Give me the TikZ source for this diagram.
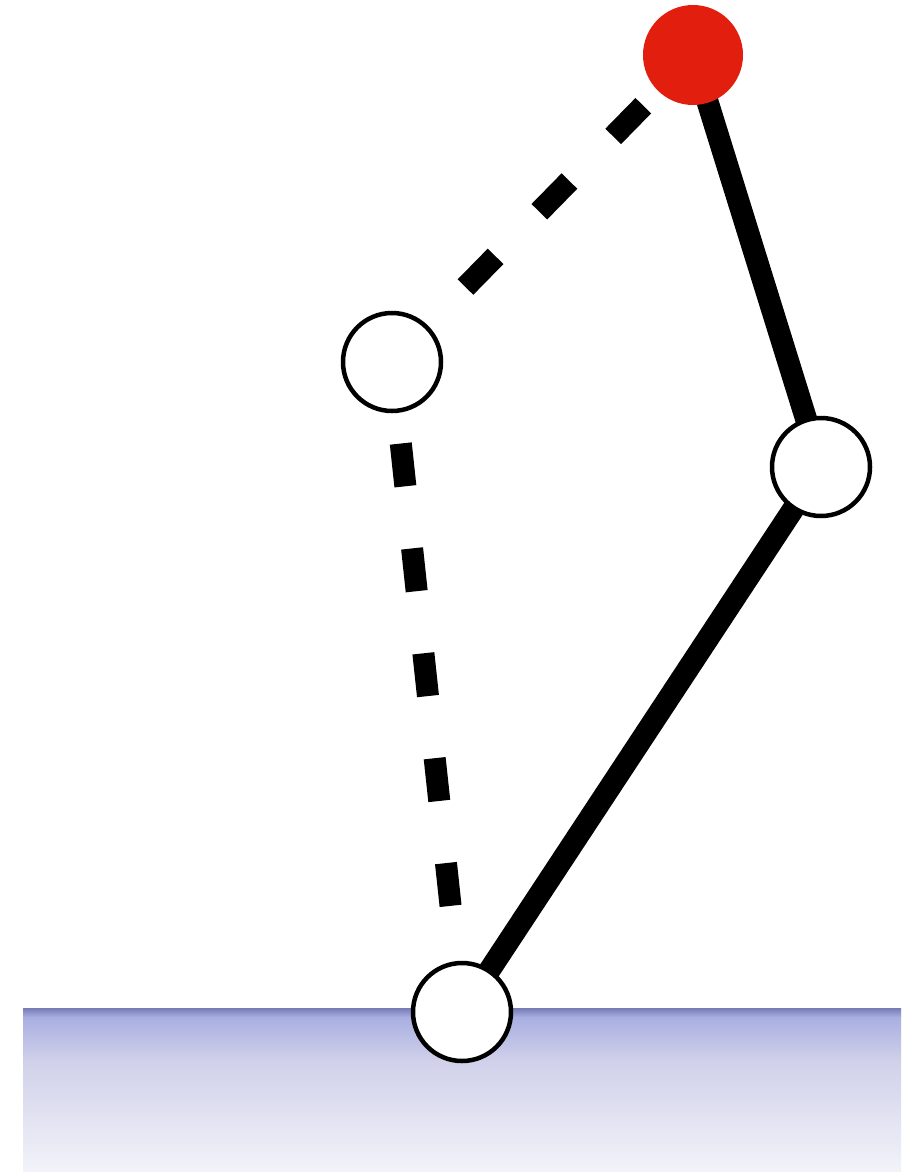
\documentclass[tikz,border=0pt]{standalone}
\usetikzlibrary{backgrounds}
\definecolor{jointred}{RGB}{226,30,14}
\definecolor{groundline}{RGB}{118,124,180}
\definecolor{groundtop}{RGB}{168,174,224}
\definecolor{groundmid}{RGB}{208,208,234}
\definecolor{groundbot}{RGB}{243,243,250}
\tikzset{
  joint/.style={circle, draw=black, fill=white, line width=4.5pt, minimum size=98pt, inner sep=0pt},
  tipjoint/.style={circle, fill=jointred, minimum size=100pt, inner sep=0pt},
  link/.style={line width=22pt, black},
  ghostlink/.style={line width=22pt, black, dash pattern=on 43pt off 62.5pt},
}
\begin{document}
\begin{tikzpicture}[x=1pt,y=-1pt]
\useasboundingbox (0,0) rectangle (908,1172);
\node[tipjoint] (tip) at (693,55) {};
\node[joint] (knee) at (821,467) {};
\node[joint] (ghost) at (392,362) {};
\node[joint] (base) at (462,1012) {};
\begin{pgfonlayer}{background}
  \fill[white] (0,0) rectangle (908,1172);
  \shade[top color=groundmid, bottom color=groundbot] (23,1059.5) rectangle (901,1172);
  \shade[top color=groundtop, bottom color=groundmid] (23,1016.5) rectangle (901,1060);
  \shade[top color=groundline, bottom color=groundtop] (23,1008) rectangle (901,1017);
  \draw[link] (tip.center) -- (knee.center);
  \draw[link] (knee.center) -- (base.center);
  \draw[ghostlink, dash phase=34.5pt] (tip.center) -- (ghost.center);
  \draw[ghostlink, dash phase=23.5pt] (ghost.center) -- (base.center);
\end{pgfonlayer}
\end{tikzpicture}
\end{document}
